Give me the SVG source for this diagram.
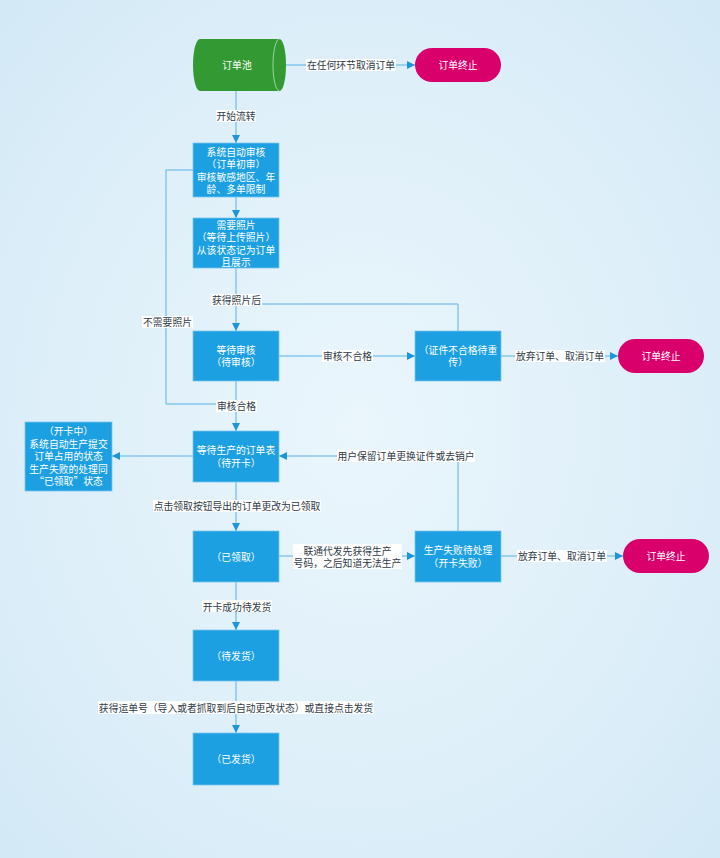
<svg xmlns="http://www.w3.org/2000/svg" width="720" height="858" viewBox="0 0 720 858">
<defs>
<radialGradient id="bg" cx="50%" cy="50%" r="70%">
<stop offset="0" stop-color="#eaf6fc"/>
<stop offset="0.6" stop-color="#deeff9"/>
<stop offset="1" stop-color="#d3e9f6"/>
</radialGradient>
<marker id="arr" viewBox="0 0 10 10" refX="10" refY="5" markerWidth="8" markerHeight="8" markerUnits="userSpaceOnUse" orient="auto">
<path d="M0,0 L10,5 L0,10 Z" fill="#1d95db"/>
</marker>
<style>
.box{fill:#1ca0e2;stroke:#7cc6ee;stroke-width:0.8}
.term{fill:#d9006c}
.bt{font-family:"Noto Sans CJK SC","Noto Sans",sans-serif;font-size:9.8px;fill:#ffffff;text-anchor:middle;dominant-baseline:central}
.lt{font-family:"Noto Sans CJK SC","Noto Sans",sans-serif;font-size:9.8px;fill:#2f3b48;text-anchor:middle;dominant-baseline:central}
.lb{fill:#ffffff}
.ln{fill:none;stroke:#56b3e8;stroke-width:1}
.la{fill:none;stroke:#56b3e8;stroke-width:1;marker-end:url(#arr)}
</style>
</defs>
<rect x="0" y="0" width="720" height="858" fill="url(#bg)"/>

<g id="connectors">
<path class="la" d="M286,65 L415,65"/>
<path class="la" d="M236,91 L236,143"/>
<path class="la" d="M236,197 L236,218"/>
<path class="la" d="M236,268 L236,331"/>
<path class="ln" d="M458,331 L458,304 L236,304"/>
<path class="ln" d="M193,170 L166,170 L166,404 L236,404"/>
<path class="la" d="M279,356 L415,356"/>
<path class="la" d="M501,356 L618,356"/>
<path class="la" d="M236,381 L236,431"/>
<path class="la" d="M193,456 L112,456"/>
<path class="la" d="M458,531 L458,456 L279,456"/>
<path class="la" d="M236,482 L236,531"/>
<path class="la" d="M279,556 L415,556"/>
<path class="la" d="M501,556 L623,556"/>
<path class="la" d="M236,582 L236,630"/>
<path class="la" d="M236,681 L236,733"/>

<rect class="lb" x="306" y="59" width="90" height="12"/><text class="lt" x="351" y="65">在任何环节取消订单</text>
<rect class="lb" x="216" y="110" width="40" height="12"/><text class="lt" x="236" y="116">开始流转</text>
<rect class="lb" x="211" y="294" width="51" height="12"/><text class="lt" x="236.5" y="300">获得照片后</text>
<rect class="lb" x="142" y="316" width="51" height="12"/><text class="lt" x="167.5" y="322">不需要照片</text>
<rect class="lb" x="322" y="350" width="51" height="12"/><text class="lt" x="347.5" y="356">审核不合格</text>
<rect class="lb" x="515" y="350" width="90" height="12"/><text class="lt" x="560" y="356">放弃订单、取消订单</text>
<rect class="lb" x="216" y="400" width="41" height="12"/><text class="lt" x="236.5" y="406">审核合格</text>
<rect class="lb" x="337" y="450" width="138" height="12"/><text class="lt" x="406" y="456">用户保留订单更换证件或去销户</text>
<rect class="lb" x="153" y="500" width="168" height="12"/><text class="lt" x="237" y="506">点击领取按钮导出的订单更改为已领取</text>
<rect class="lb" x="293" y="544" width="109" height="25"/><text class="lt" x="347.5" y="550.5">联通代发先获得生产</text><text class="lt" x="347.5" y="563">号码，之后知道无法生产</text>
<rect class="lb" x="517" y="550" width="90" height="12"/><text class="lt" x="562" y="556">放弃订单、取消订单</text>
<rect class="lb" x="202" y="600" width="70" height="12"/><text class="lt" x="237" y="606.5">开卡成功待发货</text>
<rect class="lb" x="98" y="701" width="276" height="13"/><text class="lt" x="236" y="707.5">获得运单号（导入或者抓取到后自动更改状态）或直接点击发货</text>
</g>

<g id="pool">
<path d="M200,39 L279.5,39 A6.5,26 0 0 1 279.5,91 L200,91 A7,26 0 0 1 200,39 Z" fill="#339933"/>
<path d="M279.5,39 A6.5,26 0 0 0 279.5,91" fill="none" stroke="#9fd49f" stroke-width="1"/>
<text class="bt" x="237" y="65">订单池</text>
</g>

<g id="end1"><rect class="term" x="415" y="48" width="86" height="34" rx="17"/><text class="bt" x="458" y="65">订单终止</text></g>

<g id="n1"><rect class="box" x="193" y="143" width="86" height="54"/>
<text class="bt" x="236" y="151.5">系统自动审核</text><text class="bt" x="236" y="164">（订单初审）</text><text class="bt" x="236" y="176.5">审核敏感地区、年</text><text class="bt" x="236" y="189">龄、多单限制</text></g>

<g id="n2"><rect class="box" x="193" y="218" width="86" height="50"/>
<text class="bt" x="236" y="224.5">需要照片</text><text class="bt" x="236" y="237">（等待上传照片）</text><text class="bt" x="236" y="249.5">从该状态记为订单</text><text class="bt" x="236" y="262">且展示</text></g>

<g id="n3"><rect class="box" x="193" y="331" width="86" height="50"/>
<text class="bt" x="236" y="349.5">等待审核</text><text class="bt" x="236" y="362">（待审核）</text></g>

<g id="n5"><rect class="box" x="415" y="331" width="86" height="50"/>
<text class="bt" x="458" y="349.5">（证件不合格待重</text><text class="bt" x="458" y="362">传）</text></g>

<g id="end2"><rect class="term" x="618" y="339" width="86" height="34" rx="17"/><text class="bt" x="661" y="356">订单终止</text></g>

<g id="n4"><rect class="box" x="193" y="431" width="86" height="51"/>
<text class="bt" x="236" y="450">等待生产的订单表</text><text class="bt" x="236" y="462.5">（待开卡）</text></g>

<g id="nleft"><rect class="box" x="25" y="422" width="87" height="69"/>
<text class="bt" x="68.5" y="431">（开卡中）</text><text class="bt" x="68.5" y="443.5">系统自动生产提交</text><text class="bt" x="68.5" y="456">订单占用的状态</text><text class="bt" x="68.5" y="468.5">生产失败的处理同</text><text class="bt" x="68.5" y="481">“已领取”状态</text></g>

<g id="n7"><rect class="box" x="193" y="531" width="86" height="51"/>
<text class="bt" x="236" y="556.5">（已领取）</text></g>

<g id="n6"><rect class="box" x="415" y="531" width="86" height="51"/>
<text class="bt" x="458" y="550">生产失败待处理</text><text class="bt" x="458" y="562.5">（开卡失败）</text></g>

<g id="end3"><rect class="term" x="623" y="539" width="86" height="34" rx="17"/><text class="bt" x="666" y="556">订单终止</text></g>

<g id="n8"><rect class="box" x="193" y="630" width="86" height="51"/>
<text class="bt" x="236" y="655.5">（待发货）</text></g>

<g id="n9"><rect class="box" x="193" y="733" width="86" height="52"/>
<text class="bt" x="236" y="759">（已发货）</text></g>
</svg>
